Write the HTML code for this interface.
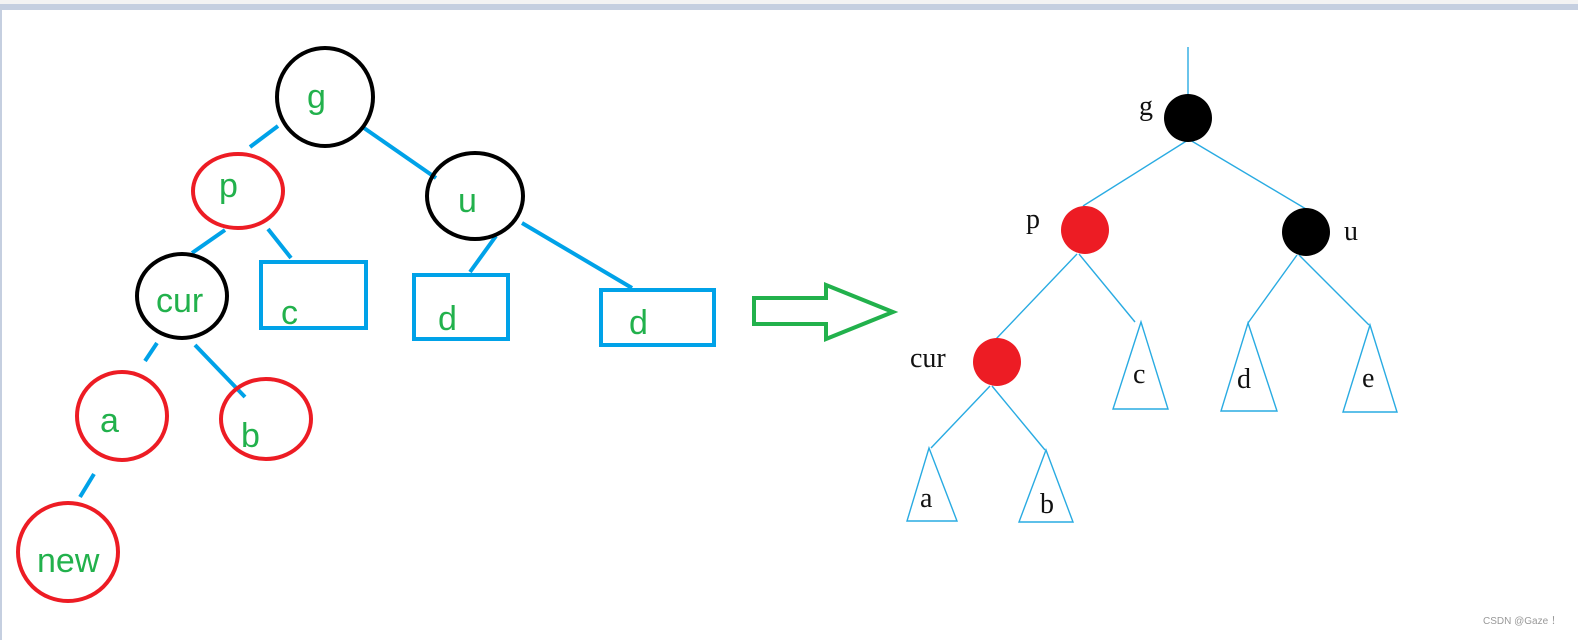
<!DOCTYPE html>
<html><head><meta charset="utf-8"><style>
html,body{margin:0;padding:0;background:#fff;}
svg{display:block;}
</style></head><body>
<svg width="1578" height="640" viewBox="0 0 1578 640" xmlns="http://www.w3.org/2000/svg">
<rect x="0" y="0" width="1578" height="640" fill="#fff"/>
<rect x="0" y="0" width="1578" height="4" fill="#f3f3f3"/>
<rect x="0" y="4" width="1578" height="6" fill="#c5cfe0"/>
<rect x="0" y="4" width="2" height="636" fill="#c5cfe0"/>

<g stroke="#00a2e8" stroke-width="4" fill="none">
<line x1="250" y1="147" x2="278" y2="126"/>
<line x1="364" y1="128" x2="436" y2="178"/>
<line x1="192" y1="253" x2="225" y2="230"/>
<line x1="268" y1="229" x2="291" y2="258"/>
<line x1="470" y1="272" x2="496" y2="236"/>
<line x1="522" y1="223" x2="632" y2="288"/>
<line x1="145" y1="361" x2="157" y2="343"/>
<line x1="195" y1="345" x2="245" y2="397"/>
<line x1="80" y1="497" x2="94" y2="474"/>
<rect x="261" y="262" width="105" height="66"/>
<rect x="414" y="275" width="94" height="64"/>
<rect x="601" y="290" width="113" height="55"/>
</g>
<g fill="none" stroke-width="4">
<ellipse cx="325" cy="97" rx="48" ry="49" stroke="#000"/>
<ellipse cx="238" cy="191" rx="45" ry="37" stroke="#ed1c24"/>
<ellipse cx="475" cy="196" rx="48" ry="43" stroke="#000"/>
<ellipse cx="182" cy="296" rx="45" ry="42" stroke="#000"/>
<ellipse cx="122" cy="416" rx="45" ry="44" stroke="#ed1c24"/>
<ellipse cx="266" cy="419" rx="45" ry="40" stroke="#ed1c24"/>
<ellipse cx="68" cy="552" rx="50" ry="49" stroke="#ed1c24"/>
</g>
<g fill="#22b14c" font-family="Liberation Sans, sans-serif" font-size="34">
<text x="307" y="108">g</text>
<text x="219" y="197">p</text>
<text x="458" y="212">u</text>
<text x="156" y="312">cur</text>
<text x="281" y="324">c</text>
<text x="438" y="330">d</text>
<text x="629" y="334">d</text>
<text x="100" y="432">a</text>
<text x="241" y="447">b</text>
<text x="37" y="572">new</text>
</g>

<polygon points="754,298 826,298 826,285 893,312 826,339 826,324 754,324" fill="none" stroke="#22b14c" stroke-width="4" stroke-linejoin="miter"/>

<g stroke="#29abe2" stroke-width="1.4" fill="none">
<line x1="1188" y1="47" x2="1188" y2="98"/>
<line x1="1188" y1="140" x2="1083" y2="206"/>
<line x1="1190" y1="140" x2="1306" y2="209"/>
<line x1="1077" y1="254" x2="996" y2="339"/>
<line x1="1079" y1="254" x2="1135" y2="322"/>
<line x1="1297" y1="255" x2="1248" y2="323"/>
<line x1="1299" y1="255" x2="1369" y2="325"/>
<line x1="990" y1="386" x2="931" y2="448"/>
<line x1="992" y1="386" x2="1045" y2="450"/>
<polygon points="1141,322 1168,409 1113,409"/>
<polygon points="1248,323 1277,411 1221,411"/>
<polygon points="1370,325 1397,412 1343,412"/>
<polygon points="929,448 957,521 907,521"/>
<polygon points="1046,450 1073,522 1019,522"/>
</g>
<g>
<circle cx="1188" cy="118" r="24" fill="#000"/>
<circle cx="1085" cy="230" r="24" fill="#ed1c24"/>
<circle cx="1306" cy="232" r="24" fill="#000"/>
<circle cx="997" cy="362" r="24" fill="#ed1c24"/>
</g>
<g fill="#111" font-family="Liberation Serif, serif" font-size="28">
<text x="1139" y="115">g</text>
<text x="1026" y="228">p</text>
<text x="1344" y="240">u</text>
<text x="910" y="367">cur</text>
<text x="1133" y="383">c</text>
<text x="1237" y="388">d</text>
<text x="1362" y="387">e</text>
<text x="920" y="507">a</text>
<text x="1040" y="513">b</text>
</g>
<text x="1483" y="624" fill="#999" font-family="Liberation Sans, sans-serif" font-size="10">CSDN @Gaze ！</text>
</svg>
</body></html>
